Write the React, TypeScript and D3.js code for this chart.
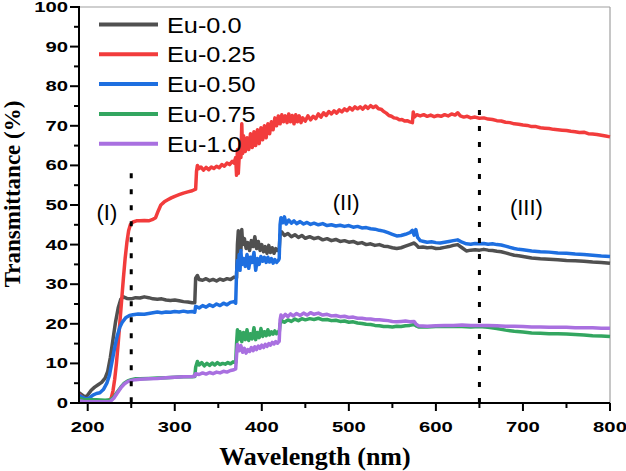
import React from "react";
import * as d3 from "d3";

type Pt = [number, number];

const seriesNames = ["Eu-0.0", "Eu-0.25", "Eu-0.50", "Eu-0.75", "Eu-1.0"];
const seriesColors = ["#505050", "#f23c3c", "#1e6fe0", "#33a660", "#a970e0"];

const eu00: Pt[] = [[190,2.6],[194,2.0],[197,1.5],[200,2.0],[204,3.2],[208,4.0],[212,4.6],[216,5.2],[220,6.3],[223,8.0],[226,11.5],[229,16],[232,20.5],[235,24],[238,26.2],[241,26.8],[245,26.4],[250,26.3],[255,26.6],[260,26.5],[265,26.8],[270,26.6],[275,26.3],[280,26.2],[285,26.3],[290,26.0],[295,25.9],[300,26.0],[305,25.8],[310,25.6],[315,25.5],[320,25.3],[323,25.3],[324,31.5],[326,32.2],[328,31.2],[332,31.0],[336,31.4],[340,30.9],[344,31.2],[348,30.8],[352,31.3],[356,31.0],[360,31.4],[364,31.2],[368,31.8],[371,31.6],[372,40],[373,43.5],[374,39],[375,42],[376,38.5],[377,43.8],[378,40],[380,41.5],[382,39],[384,40.5],[386,38.5],[388,41],[390,39.5],[392,42],[394,39],[396,40.8],[398,38.5],[400,40],[402,38.2],[404,39.5],[406,37.8],[408,39.8],[410,38],[412,39.2],[414,37.8],[416,39],[418,38.5],[420,38.8],[421,42.5],[423,43.2],[426,42.3],[430,42.8],[434,42],[438,42.5],[442,41.8],[446,42.3],[450,41.6],[455,42],[460,41.5],[465,41.8],[470,41.2],[475,41.5],[480,41],[485,41.3],[490,40.8],[495,41],[500,40.6],[505,40.8],[510,40.3],[515,40.5],[520,40],[525,40.2],[530,39.8],[535,40],[540,39.6],[545,39.5],[550,39.2],[555,39],[560,39.2],[565,39.6],[570,40],[575,40.4],[578,39.8],[580,39.3],[585,39.4],[590,39.2],[595,39.3],[600,39],[605,39.1],[610,39.3],[615,39.5],[620,39.8],[625,40],[630,39.2],[635,38.4],[640,38.6],[645,38.7],[650,38.6],[655,38.8],[660,38.6],[665,38.5],[670,38.3],[675,38.2],[680,37.9],[685,37.6],[690,37.3],[695,37.2],[700,37],[710,36.6],[720,36.4],[730,36.3],[740,36.2],[750,36],[760,35.9],[770,35.8],[780,35.6],[790,35.5],[800,35.3]];

const eu025: Pt[] = [[190,2.2],[194,1.4],[198,0.8],[202,0.6],[206,0.5],[210,0.5],[215,0.5],[220,0.5],[224,0.6],[227,1.2],[229,3],[231,6],[233,10],[235,15],[237,20.5],[239,26],[241,31.5],[243,36.5],[245,40.5],[247,43.5],[249,45],[252,45.7],[256,46],[260,46],[265,46.1],[270,46],[274,46.3],[278,46.8],[281,48.5],[284,50],[288,50.8],[292,51.3],[296,51.8],[300,52.2],[305,52.6],[310,53],[315,53.3],[320,53.6],[324,54],[325,58.5],[326,60],[328,59.2],[330,59.6],[333,58.8],[336,59.5],[339,58.9],[342,59.6],[345,59.2],[348,59.8],[351,59.4],[354,60.2],[357,59.8],[360,60.6],[363,60.2],[366,61],[368,60.6],[370,62],[371,57.5],[372,64],[373,58],[375,66],[376,62],[377,70.5],[378,63],[379,67.5],[381,63.5],[383,67],[385,64],[387,68],[389,64.5],[391,68.5],[393,65],[395,69],[397,65.5],[399,69.5],[401,66.5],[403,70],[405,67],[407,70.5],[409,68],[411,71],[413,69],[415,72],[417,70],[419,72.5],[421,70.5],[423,72.8],[425,71],[427,72.5],[429,70.8],[431,73],[433,71],[435,72.6],[437,70.5],[439,72.8],[441,71],[443,72.5],[445,70.8],[447,72],[450,71.2],[453,72.5],[456,71.5],[459,72.4],[462,71.8],[465,73],[468,72.2],[471,73.3],[474,72.6],[477,73.6],[480,73],[483,73.8],[486,73.2],[489,74],[492,73.5],[495,74.3],[498,73.8],[501,74.6],[504,74],[507,74.8],[510,74.3],[513,74.8],[516,74.2],[519,75],[522,74.4],[525,75.1],[528,74.6],[531,75],[534,74.3],[537,74.2],[540,73.6],[543,73.2],[546,72.6],[549,72.4],[552,72],[555,71.9],[558,71.5],[561,71.6],[564,71.2],[567,71.3],[570,71],[573,70.8],[574,73.5],[575,72.2],[578,72.8],[582,72.5],[586,72.8],[590,72.4],[594,72.7],[598,72.3],[602,72.6],[606,72.4],[610,72.8],[614,72.5],[618,73],[622,72.7],[625,73.3],[628,72.5],[632,72.2],[636,72.4],[640,72],[645,72.2],[650,71.9],[655,72],[660,71.7],[665,71.6],[670,71.3],[675,71.2],[680,70.9],[685,70.8],[690,70.5],[695,70.4],[700,70.2],[705,70.1],[710,69.8],[715,69.8],[720,69.5],[725,69.4],[730,69.3],[735,69.1],[740,69],[745,68.9],[750,68.8],[755,68.6],[760,68.5],[765,68.3],[770,68.4],[775,68],[780,67.9],[785,67.8],[790,67.6],[795,67.4],[800,67.2]];

const eu050: Pt[] = [[190,2.0],[194,1.4],[198,1.0],[202,1.3],[206,2.0],[210,2.4],[214,2.6],[218,3.4],[222,5.0],[225,7.0],[228,10.5],[231,14],[234,17],[237,19.2],[240,20.5],[244,21.6],[248,22.1],[252,22.3],[258,22.5],[265,22.4],[270,22.6],[275,22.8],[280,23.0],[285,22.8],[290,23.0],[295,22.9],[300,23.1],[305,23.0],[310,23.2],[315,23.0],[320,23.1],[323,22.9],[324,24.4],[328,24.0],[332,24.6],[336,24.2],[340,24.8],[344,24.4],[348,25.0],[352,24.6],[356,25.2],[360,24.8],[364,25.4],[368,25.6],[370,25.2],[371,33],[372,36],[373,34],[374,37.5],[375,33.5],[376,38.5],[377,35],[379,36.5],[381,34.5],[383,37.5],[385,34],[387,36.8],[389,35.5],[391,38],[393,33.5],[395,36.5],[397,35],[399,37],[401,35.8],[403,36.8],[405,35.5],[407,36.8],[409,35.6],[411,36.5],[413,35.3],[415,36.2],[417,35.5],[419,36],[420,36.5],[421,45],[422,46.8],[424,45.5],[426,47],[428,45.2],[431,46.2],[434,45.4],[437,46],[440,45.3],[444,45.8],[448,45.2],[452,45.6],[456,45.1],[460,45.4],[465,45],[470,45.3],[475,44.8],[480,45],[485,44.7],[490,44.9],[495,44.6],[500,44.8],[505,44.4],[510,44.6],[515,44.2],[520,44.3],[525,44],[530,43.9],[535,43.6],[540,43.4],[545,43],[550,42.6],[555,42.2],[560,42.3],[565,42.6],[570,43],[573,43.6],[575,42.4],[577,43.8],[579,41.8],[582,41],[586,40.8],[590,40.6],[595,40.7],[600,40.5],[605,40.4],[610,40.6],[615,40.8],[620,41],[625,41.2],[630,40.6],[635,40.2],[640,40.1],[645,40.3],[650,40.2],[655,40.3],[660,40.1],[665,40.2],[670,40],[675,39.9],[680,39.6],[685,39.3],[690,39],[695,38.8],[700,38.7],[710,38.4],[720,38.2],[730,38.1],[740,37.9],[750,37.8],[760,37.6],[770,37.5],[780,37.3],[790,37.1],[800,37.0]];

const eu075: Pt[] = [[190,1.2],[195,0.9],[200,0.8],[210,0.8],[220,0.7],[226,0.8],[230,1.5],[234,2.8],[238,4],[242,5],[246,5.6],[250,5.9],[255,6.1],[260,6.1],[270,6.2],[280,6.3],[290,6.4],[300,6.5],[310,6.6],[320,6.6],[323,6.7],[324,9],[326,10.5],[328,9.6],[331,10.2],[334,9.4],[337,10],[340,9.5],[343,10.1],[346,9.6],[349,10.2],[352,9.7],[355,10],[358,9.8],[361,10.2],[364,9.9],[367,10.4],[370,10.2],[371,15],[372,18.5],[373,16],[375,18],[377,15.5],[379,17.8],[381,16],[383,18.5],[385,15.8],[387,17.5],[389,16.2],[391,19],[393,16],[395,17.8],[397,16.5],[399,18.8],[401,16.8],[403,18],[405,17],[407,18.5],[409,17.2],[411,18],[413,17.4],[415,18.2],[417,17.5],[419,18],[420,17.8],[421,20],[423,20.8],[426,20.4],[430,21],[434,20.6],[438,21.2],[442,20.8],[446,21.3],[450,21],[455,21.3],[460,21.1],[465,21.4],[470,21],[475,21.1],[480,20.8],[485,20.9],[490,20.6],[495,20.7],[500,20.4],[505,20.5],[510,20.2],[515,20.1],[520,19.9],[525,19.8],[530,19.6],[535,19.5],[540,19.3],[545,19.3],[550,19.2],[555,19.4],[560,19.3],[565,19.5],[570,19.6],[575,19.8],[578,19.4],[580,19.2],[590,19.2],[600,19.3],[610,19.3],[620,19.4],[630,19.3],[640,19.2],[650,19.3],[660,19.1],[670,18.8],[680,18.4],[690,18.1],[700,17.9],[710,17.7],[720,17.6],[730,17.5],[740,17.5],[750,17.4],[760,17.3],[770,17.2],[780,17],[790,16.9],[800,16.8]];

const eu100: Pt[] = [[190,0.6],[195,0.4],[200,0.3],[210,0.3],[220,0.3],[226,0.4],[230,1.2],[234,2.5],[238,3.8],[242,4.8],[246,5.4],[250,5.7],[255,5.9],[260,6],[270,6.1],[280,6.2],[290,6.4],[300,6.5],[310,6.6],[320,6.7],[323,6.8],[324,7.4],[328,7.2],[332,7.6],[336,7.3],[340,7.7],[344,7.4],[348,7.8],[352,7.6],[356,8],[360,7.8],[364,8.2],[368,8.4],[370,8.6],[371,12],[372,14.8],[374,13.2],[376,14.5],[378,12.8],[380,13.8],[382,12.6],[384,13.5],[386,13],[388,14],[390,13.2],[392,14.2],[394,13.5],[396,14.4],[398,13.8],[400,14.6],[402,14],[404,14.8],[406,14.3],[408,15],[410,14.6],[412,15.3],[414,14.9],[416,15.5],[418,15.1],[420,15.6],[421,21],[422,22.2],[424,21.6],[427,22.4],[430,21.8],[433,22.5],[436,22],[440,22.6],[444,22.1],[448,22.7],[452,22.2],[456,22.8],[460,22.4],[465,22.7],[470,22.2],[475,22.4],[480,22],[485,22.1],[490,21.8],[495,21.9],[500,21.6],[505,21.7],[510,21.4],[515,21.4],[520,21.2],[525,21.2],[530,21],[535,21],[540,20.9],[545,20.8],[550,20.6],[555,20.5],[560,20.6],[565,20.7],[570,20.5],[575,20.6],[577,20],[580,19.5],[590,19.4],[600,19.5],[610,19.6],[620,19.6],[630,19.7],[640,19.6],[650,19.6],[660,19.6],[670,19.5],[680,19.4],[690,19.4],[700,19.3],[710,19.2],[720,19.2],[730,19.1],[740,19.1],[750,19.1],[760,19],[770,19],[780,19],[790,18.9],[800,18.9]];

const seriesData = [eu00, eu025, eu050, eu075, eu100];

const xTicks = [200, 300, 400, 500, 600, 700, 800];
const xMinorTicks = [250, 350, 450, 550, 650, 750];
const yTicks = [0, 10, 20, 30, 40, 50, 60, 70, 80, 90, 100];
const yMinorTicks = [5, 15, 25, 35, 45, 55, 65, 75, 85, 95];

const dividers = [
  { x: 250, top: 58 },
  { x: 650, top: 74 },
];
const regions = [
  { label: "(I)", x: 222, y: 46.2 },
  { label: "(II)", x: 497, y: 48.8 },
  { label: "(III)", x: 704, y: 47.5 },
];

const W = 626, H = 471;
const L = 79, R = 610, T = 7, B = 403;

export default function App() {
  const x = d3.scaleLinear().domain([190, 800]).range([L, R]);
  const y = d3.scaleLinear().domain([0, 100]).range([B, T]);
  const line = d3.line<Pt>().x(d => x(d[0])).y(d => y(d[1]));
  const sans = "'Liberation Sans', Arial, sans-serif";
  const serif = "'Liberation Serif', 'Times New Roman', serif";
  return (
    <svg width={W} height={H} style={{ position: "absolute", left: 0, top: 0, background: "#fff" }}>
      <rect x={0} y={0} width={W} height={H} fill="#fff" />
      <line x1={L} x2={R} y1={T} y2={T} stroke="#a0a0a0" strokeWidth={1.2} />
      <line x1={R} x2={R} y1={T} y2={B} stroke="#a0a0a0" strokeWidth={1.2} />
      {seriesData.map((s, i) => (
        <path key={i} d={line(s) || ""} fill="none" stroke={seriesColors[i]} strokeWidth={3.5} strokeLinejoin="round" />
      ))}
      {dividers.map((d, i) => (
        <line key={i} x1={x(d.x)} x2={x(d.x)} y1={y(d.top)} y2={B} stroke="#000" strokeWidth={3} strokeDasharray="5 11" />
      ))}
      <line x1={L} x2={L} y1={T - 1} y2={B + 1} stroke="#000" strokeWidth={2} />
      <line x1={L - 1} x2={R} y1={B} y2={B} stroke="#000" strokeWidth={2} />
      {yTicks.map(t => (
        <g key={"y" + t}>
          <line x1={L - 9} x2={L} y1={y(t)} y2={y(t)} stroke="#000" strokeWidth={2} />
          <text transform={`translate(${L - 11},${y(t) + 5}) scale(1.45,1)`} textAnchor="end" fontFamily={sans} fontWeight="bold" fontSize={14}>{t}</text>
        </g>
      ))}
      {yMinorTicks.map(t => (
        <line key={"ym" + t} x1={L - 5} x2={L} y1={y(t)} y2={y(t)} stroke="#000" strokeWidth={2} />
      ))}
      {xTicks.map(t => (
        <g key={"x" + t}>
          <line x1={x(t)} x2={x(t)} y1={B} y2={B + 8} stroke="#000" strokeWidth={2} />
          <text transform={`translate(${x(t)},${432}) scale(1.45,1)`} textAnchor="middle" fontFamily={sans} fontWeight="bold" fontSize={14}>{t}</text>
        </g>
      ))}
      {xMinorTicks.map(t => (
        <line key={"xm" + t} x1={x(t)} x2={x(t)} y1={B} y2={B + 5} stroke="#000" strokeWidth={2} />
      ))}
      {regions.map((r, i) => (
        <text key={i} x={x(r.x)} y={y(r.y)} textAnchor="middle" fontFamily={sans} fontSize={22}>{r.label}</text>
      ))}
      {seriesNames.map((n, i) => {
        const ly = 24.5 + i * 29.8;
        return (
          <g key={n}>
            <line x1={99} x2={158} y1={ly} y2={ly} stroke={seriesColors[i]} strokeWidth={4} />
            <text transform={`translate(167,${ly + 8}) scale(1.15,1)`} fontFamily={sans} fontSize={22}>{n}</text>
          </g>
        );
      })}
      <text x={315} y={465} textAnchor="middle" fontFamily={serif} fontWeight="bold" fontSize={26}>Wavelength (nm)</text>
      <text transform={`translate(20,194) rotate(-90)`} textAnchor="middle" fontFamily={serif} fontWeight="bold" fontSize={23}>Transmittance (%)</text>
    </svg>
  );
}
